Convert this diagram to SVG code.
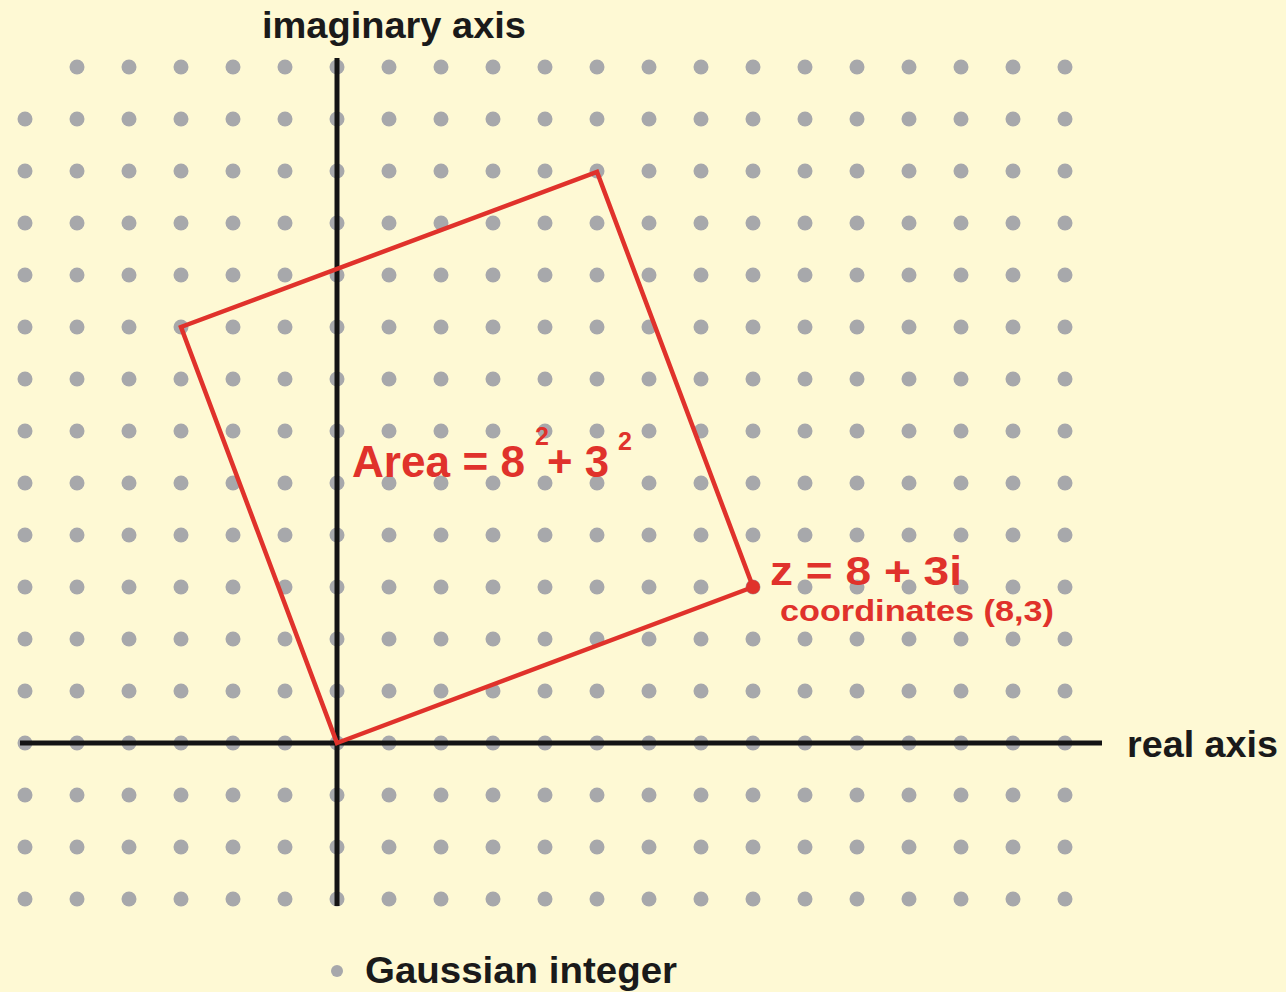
<svg xmlns="http://www.w3.org/2000/svg" width="1286" height="992" viewBox="0 0 1286 992">
  <defs>
    <pattern id="dots" patternUnits="userSpaceOnUse" x="-1" y="41" width="52" height="52">
      <circle cx="26" cy="26" r="7.5" fill="#a7a8ab"/>
    </pattern>
    <style>
      .lbl { font-family: "Liberation Sans", Arial, sans-serif; font-weight: bold; }
      .blk { fill: #1a1a1a; }
      .red { fill: #e0322b; }
      .axis { stroke: #141414; stroke-width: 5; fill: none; }
    </style>
  </defs>
  <rect width="1286" height="992" fill="#fef9d4"/>
  <g id="lattice">
    <rect x="55" y="52" width="1025" height="30" fill="url(#dots)"/>
    <rect x="0" y="100" width="1090" height="815" fill="url(#dots)"/>
  </g>
  <g id="connectors">
    <line class="axis" x1="337" y1="58" x2="337" y2="906"/>
    <line class="axis" x1="20" y1="743" x2="1102" y2="743"/>
    <polygon points="337,743 753,587 597,172 181,327" fill="none" stroke="#e0322b" stroke-width="4.5" stroke-linejoin="miter"/>
  </g>
  <g id="z-point">
    <circle cx="753" cy="587" r="7" fill="#e0322b"/>
    <text class="lbl red" x="770" y="585" font-size="41" textLength="192" lengthAdjust="spacingAndGlyphs">z = 8 + 3i</text>
    <text class="lbl red" x="780" y="621" font-size="30" textLength="274" lengthAdjust="spacingAndGlyphs">coordinates (8,3)</text>
  </g>
  <g id="area-label">
    <text class="lbl red" x="352" y="477" font-size="44" textLength="173" lengthAdjust="spacingAndGlyphs">Area = 8</text>
    <text class="lbl red" x="535" y="445" font-size="25">2</text>
    <text class="lbl red" x="547" y="477" font-size="44" textLength="62" lengthAdjust="spacingAndGlyphs">+ 3</text>
    <text class="lbl red" x="618" y="450" font-size="25">2</text>
  </g>
  <g id="imaginary-axis-label">
    <text class="lbl blk" x="262" y="38" font-size="36" textLength="264" lengthAdjust="spacingAndGlyphs">imaginary axis</text>
  </g>
  <g id="real-axis-label">
    <text class="lbl blk" x="1127" y="757" font-size="37" textLength="151" lengthAdjust="spacingAndGlyphs">real axis</text>
  </g>
  <g id="legend">
    <circle cx="337" cy="971" r="6" fill="#a7a8ab"/>
    <text class="lbl blk" x="365" y="983" font-size="36" textLength="312" lengthAdjust="spacingAndGlyphs">Gaussian integer</text>
  </g>
</svg>
